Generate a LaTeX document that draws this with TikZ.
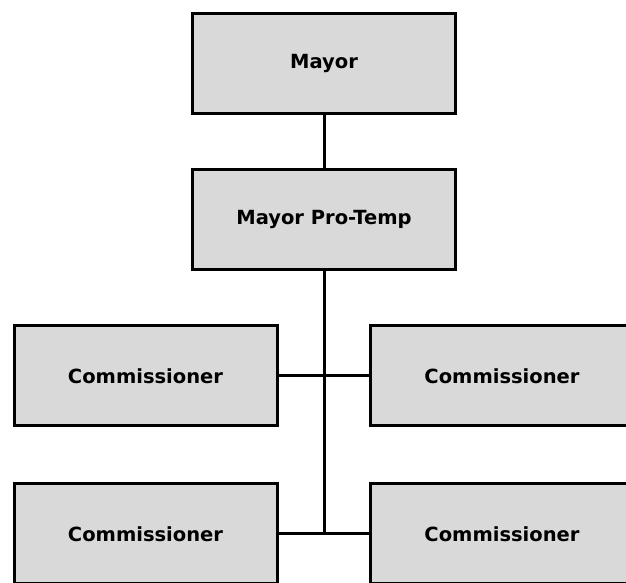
\documentclass[tikz,border=0pt]{standalone}
\usepackage{fontspec}
\setmainfont{DejaVu Sans}
\usepackage{tikz}
\usetikzlibrary{positioning}
\definecolor{boxgray}{HTML}{D9D9D9}

\begin{document}
\begin{tikzpicture}[x=1pt,y=1pt,
    office/.style={draw, line width=3pt, fill=boxgray, minimum width=263pt, minimum height=100pt, font=\fontsize{19.5}{23}\selectfont\bfseries},
    link/.style={line width=3pt}]

        % Khung hình
        \clip (0,0) rectangle (626,583);

        % Các chức vụ
        \node[office] (mayor) at (324,519) {Mayor}; % Thị trưởng
        \node[office, below=53pt of mayor] (protemp) {Mayor Pro-Temp}; % Phó thị trưởng
        \node[office] (comA) at (145.5,207) {Commissioner};
        \node[office] (comB) at (502,207) {Commissioner};
        \node[office] (comC) at (145.5,49) {Commissioner};
        \node[office] (comD) at (502,49) {Commissioner};

        % Các điểm nối trên trục
        \coordinate (joinA) at (protemp.south |- comA.east);
        \coordinate (joinC) at (protemp.south |- comC.east);

        % Vẽ các đường nối
        \draw[link] (mayor) -- (protemp);
        \draw[link] (protemp) -- (joinC);
        \draw[link] (comA) -- (joinA) -- (comB);
        \draw[link] (comC) -- (joinC) -- (comD);

\end{tikzpicture}
\end{document}
